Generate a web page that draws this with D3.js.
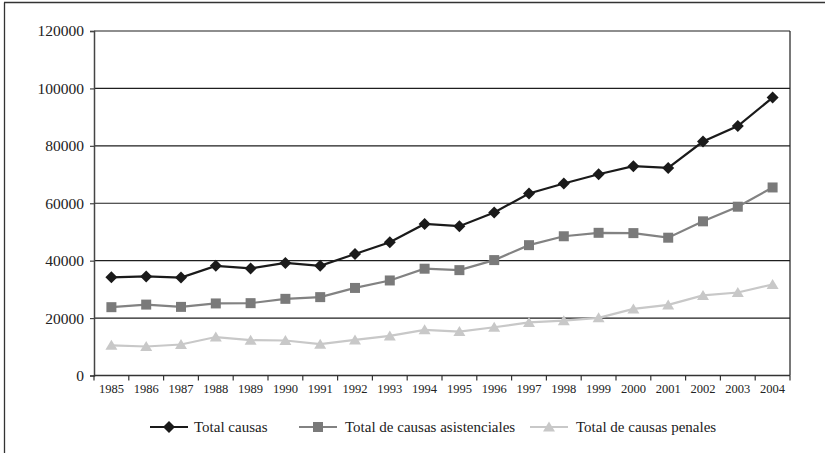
<!DOCTYPE html>
<html>
<head>
<meta charset="utf-8">
<script src="https://cdn.jsdelivr.net/npm/d3@7"></script>
</head>
<body style="margin:0;padding:0;background:#fff">
<svg id="chart" width="825" height="453" font-family="Liberation Serif"></svg>
<script>
// Años del período
const years = ["1985","1986","1987","1988","1989","1990","1991","1992","1993","1994",
               "1995","1996","1997","1998","1999","2000","2001","2002","2003","2004"];

// Causas ingresadas por año
const totalCausas = [34200, 34500, 34100, 38200, 37300, 39200, 38200, 42300, 46400, 52800,
                     52000, 56800, 63400, 66900, 70100, 72900, 72300, 81500, 86900, 96800];
const causasAsistenciales = [23800, 24700, 23900, 25100, 25200, 26700, 27300, 30500, 33100, 37200,
                             36700, 40200, 45400, 48500, 49700, 49600, 48000, 53700, 58800, 65500];
const causasPenales = [10500, 10100, 10800, 13400, 12300, 12200, 10900, 12400, 13800, 15900,
                       15300, 16800, 18500, 19100, 20100, 23200, 24600, 27900, 28900, 31700];

const yTicks = [0, 20000, 40000, 60000, 80000, 100000, 120000];
const legendLabels = ["Total causas", "Total de causas asistenciales", "Total de causas penales"];

const FONT = "Liberation Serif";

const series = [
  { name: legendLabels[0], values: totalCausas, line: "#1a1a1a", fill: "#1a1a1a", marker: "diamond" },
  { name: legendLabels[1], values: causasAsistenciales, line: "#828282", fill: "#7a7a7a", marker: "square" },
  { name: legendLabels[2], values: causasPenales, line: "#c8c8c8", fill: "#c8c8c8", marker: "triangle" }
];

const svg = d3.select("#chart");
const margin = { left: 94, right: 35, top: 31, bottom: 77.5 };
const W = 825, H = 453;

const x = d3.scaleBand().domain(years).range([margin.left, W - margin.right]);
const y = d3.scaleLinear().domain([0, 120000]).range([H - margin.bottom, margin.top]);

// Marco exterior (borde izquierdo y superior)
svg.append("line").attr("x1", 4.5).attr("x2", 4.5).attr("y1", 2.5).attr("y2", H)
  .attr("stroke", "#333").attr("stroke-width", 1.3);
svg.append("line").attr("x1", 4).attr("x2", W).attr("y1", 2.5).attr("y2", 2.5)
  .attr("stroke", "#333").attr("stroke-width", 1.3);

// Líneas de cuadrícula horizontales
svg.append("g").selectAll("line").data(yTicks.filter(d => d > 0)).join("line")
  .attr("x1", margin.left).attr("x2", W - margin.right)
  .attr("y1", d => y(d)).attr("y2", d => y(d))
  .attr("stroke", "#1e1e1e").attr("stroke-width", 1.2);

// Borde derecho del área de trazado
svg.append("line").attr("x1", W - margin.right).attr("x2", W - margin.right)
  .attr("y1", y(120000)).attr("y2", y(0))
  .attr("stroke", "#1e1e1e").attr("stroke-width", 1.2);

// Eje Y
const yAxis = svg.append("g").attr("transform", `translate(${margin.left},0)`)
  .call(d3.axisLeft(y).tickValues(yTicks).tickSize(4).tickPadding(6).tickFormat(d3.format("d")))
  .attr("font-family", FONT).attr("font-size", 15.5);
yAxis.select(".domain").attr("stroke", "#444").attr("stroke-width", 1.5);
yAxis.selectAll(".tick line").attr("stroke", "#444").attr("stroke-width", 1.2);
yAxis.selectAll("text").attr("fill", "#222");

// Eje X: marcas entre categorías
const xAxis = svg.append("g").attr("transform", `translate(0,${y(0)})`);
xAxis.append("line").attr("x1", margin.left).attr("x2", W - margin.right)
  .attr("y1", 0).attr("y2", 0).attr("stroke", "#333").attr("stroke-width", 1.5);
const boundaries = years.map(d => x(d)).concat([x.range()[1]]);
xAxis.selectAll("line.tk").data(boundaries).join("line").attr("class", "tk")
  .attr("x1", d => d).attr("x2", d => d).attr("y1", 0).attr("y2", 5)
  .attr("stroke", "#333").attr("stroke-width", 1.2);
xAxis.selectAll("text").data(years).join("text")
  .attr("x", d => x(d) + x.bandwidth() / 2).attr("y", 17)
  .attr("text-anchor", "middle").attr("font-family", FONT).attr("font-size", 12.5)
  .attr("fill", "#222").text(d => d);

// Marcadores
const markerPath = {
  diamond: "M0,-6L6,0L0,6L-6,0Z",
  square: "M-5,-5H5V5H-5Z",
  triangle: "M0,-5.5L6,4.5H-6Z"
};

const line = d3.line()
  .x((d, i) => x(years[i]) + x.bandwidth() / 2)
  .y(d => y(d));

// Series (la negra queda encima)
series.slice().reverse().forEach(s => {
  const g = svg.append("g");
  g.append("path").datum(s.values).attr("d", line)
    .attr("fill", "none").attr("stroke", s.line).attr("stroke-width", 2.2);
  g.selectAll("path.m").data(s.values).join("path").attr("class", "m")
    .attr("d", markerPath[s.marker])
    .attr("transform", (d, i) => `translate(${x(years[i]) + x.bandwidth() / 2},${y(d)})`)
    .attr("fill", s.fill);
});

// Leyenda
const legendY = 427;
const legendItems = [
  { x0: 150, tx: 194 },
  { x0: 299, tx: 345 },
  { x0: 530, tx: 576 }
];
series.forEach((s, i) => {
  const li = legendItems[i];
  const g = svg.append("g");
  g.append("line").attr("x1", li.x0).attr("x2", li.x0 + 38)
    .attr("y1", legendY).attr("y2", legendY)
    .attr("stroke", s.line).attr("stroke-width", 2.2);
  g.append("path").attr("d", markerPath[s.marker])
    .attr("transform", `translate(${li.x0 + 19},${legendY})`).attr("fill", s.fill);
  g.append("text").attr("x", li.tx).attr("y", legendY + 5)
    .attr("font-family", FONT).attr("font-size", 15).attr("fill", "#222").text(s.name);
});
</script>
</body>
</html>
